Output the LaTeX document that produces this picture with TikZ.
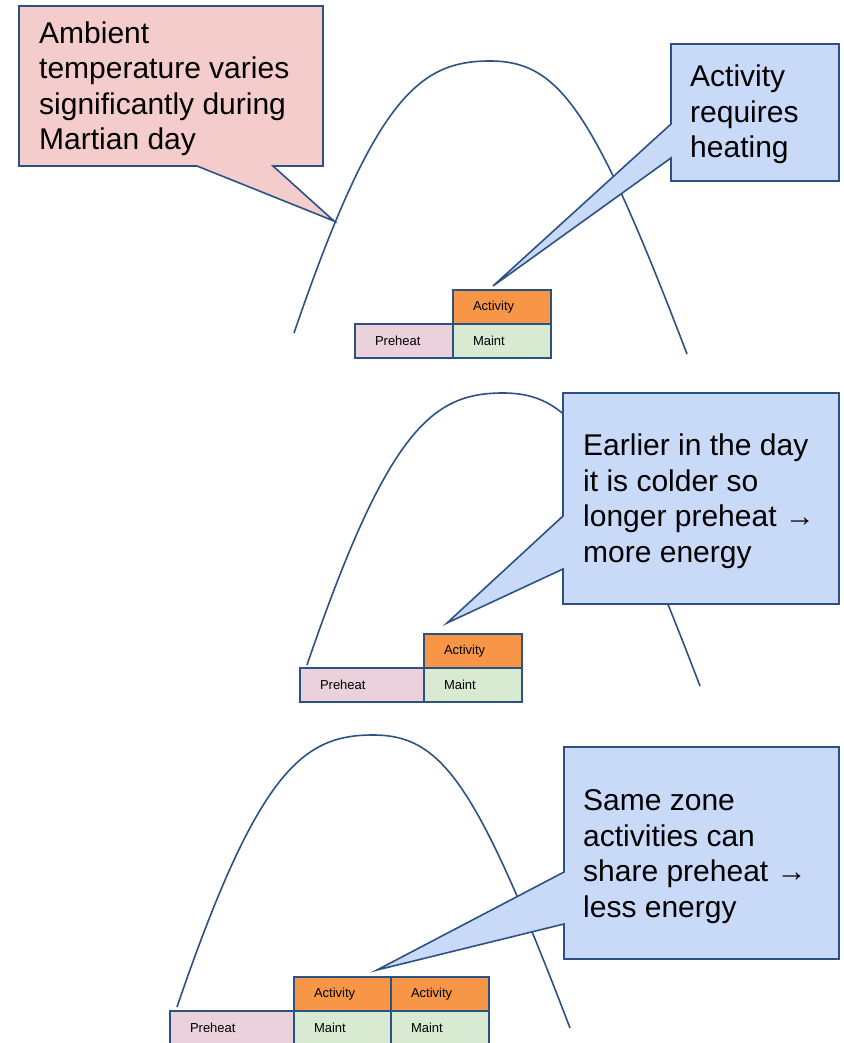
\documentclass[tikz,border=0pt]{standalone}
\usepackage{fontspec}
\setmainfont{Liberation Sans}
\usetikzlibrary{calc}

\definecolor{edge}{RGB}{44,82,132}
\definecolor{pinkfill}{HTML}{F4CCCC}
\definecolor{bluefill}{HTML}{C9DAF8}
\definecolor{actfill}{HTML}{F79646}
\definecolor{prefill}{HTML}{EAD1DC}
\definecolor{maintfill}{HTML}{D9EAD3}

\pgfdeclarelayer{curvelayer}
\pgfdeclarelayer{calloutlayer}
\pgfsetlayers{curvelayer,calloutlayer,main}

\tikzset{
  curveline/.style={draw=edge, line width=1.6pt},
  callbox/.style={rectangle, draw=none, inner sep=0pt, outer sep=0pt, anchor=north west},
  % anchored at the baseline of the last line
  calltext/.style={anchor=base west, align=left, inner sep=0pt,
    font=\fontsize{30}{35.5}\selectfont},
  pinkcall/.style={draw=edge, fill=pinkfill, line width=1.6pt, line join=miter},
  bluecall/.style={draw=edge, fill=bluefill, line width=1.6pt, line join=miter},
  blk/.style={rectangle, draw=edge, line width=2.2pt, anchor=north west,
    minimum height=34pt, text width=#1, align=left, inner xsep=20pt, inner ysep=0pt,
    outer sep=0pt, font=\fontsize{13}{15}\selectfont},
  blk/.default=58pt,
  act/.style={blk, fill=actfill},
  pre/.style={blk=#1, fill=prefill},
  pre/.default=58pt,
  mnt/.style={blk, fill=maintfill},
  % daily ambient temperature profile
  daycurve/.pic={
    \draw[curveline] (294,333) .. controls (375,96) and (420,61) .. (490,61)
      .. controls (560,61) and (594,111) .. (687,354);
  }
}

\begin{document}
\begin{tikzpicture}[x=1pt, y=-1pt]
  \useasboundingbox (0,0) rectangle (843,1043);

  % temperature curves, one per scenario
  \begin{pgfonlayer}{curvelayer}
    \pic at (0,0) {daycurve};
    \pic at (13,332) {daycurve};
    \pic at (-117,674) {daycurve};
  \end{pgfonlayer}

  % ---------- scenario 1 ----------
  \node[act] (act1) at (453,290) {Activity};
  \node[mnt] (mnt1) at (453,324) {Maint};
  \node[pre] (pre1) at (355,324) {Preheat};

  \node[callbox, minimum width=304pt, minimum height=160pt] (amb) at (19,6) {};
  \coordinate (ambtip) at (334,221);
  \node[calltext] (ambtext) at (39,150) {Ambient\\temperature varies\\significantly during\\Martian day};

  \node[callbox, minimum width=168pt, minimum height=137pt] (req) at (671,44) {};
  \coordinate (reqtip) at ($(act1.north west)+(40,-4)$);
  \node[calltext] (reqtext) at (690,158) {Activity\\requires\\heating};

  % ---------- scenario 2 ----------
  \node[act] (act2) at (424,634) {Activity};
  \node[mnt] (mnt2) at (424,668) {Maint};
  \node[pre=84pt] (pre2) at (300,668) {Preheat};

  \node[callbox, minimum width=276pt, minimum height=211pt] (cold) at (563,393) {};
  \coordinate (coldtip) at ($(act2.north west)+(23,-11)$);
  \node[calltext] (coldtext) at (583,562) {Earlier in the day\\it is colder so\\longer preheat →\\more energy};

  % ---------- scenario 3 ----------
  \node[act] (act3a) at (294,977) {Activity};
  \node[act] (act3b) at (391,977) {Activity};
  \node[mnt] (mnt3a) at (294,1011) {Maint};
  \node[mnt] (mnt3b) at (391,1011) {Maint};
  \node[pre=84pt] (pre3) at (170,1011) {Preheat};

  \node[callbox, minimum width=275pt, minimum height=212pt] (share) at (564,747) {};
  \coordinate (sharetip) at ($(act3a.north west)+(83,-7)$);
  \node[calltext] (sharetext) at (583,917) {Same zone\\activities can\\share preheat →\\less energy};

  % callout outlines with their pointers
  \begin{pgfonlayer}{calloutlayer}
    \draw[pinkcall] (amb.north west) -- (amb.north east) -- (amb.south east)
      -- ($(amb.south west)+(254,0)$) -- (ambtip)
      -- ($(amb.south west)+(178,0)$) -- (amb.south west) -- cycle;
    \draw[bluecall] (req.north west) -- (req.north east) -- (req.south east)
      -- (req.south west) -- ($(req.north west)+(0,114)$) -- (reqtip)
      -- ($(req.north west)+(0,80)$) -- cycle;
    \draw[bluecall] (cold.north west) -- (cold.north east) -- (cold.south east)
      -- (cold.south west) -- ($(cold.north west)+(0,176)$) -- (coldtip)
      -- ($(cold.north west)+(0,123)$) -- cycle;
    \draw[bluecall] (share.north west) -- (share.north east) -- (share.south east)
      -- (share.south west) -- ($(share.north west)+(0,177)$) -- (sharetip)
      -- ($(share.north west)+(0,125)$) -- cycle;
  \end{pgfonlayer}
\end{tikzpicture}
\end{document}
